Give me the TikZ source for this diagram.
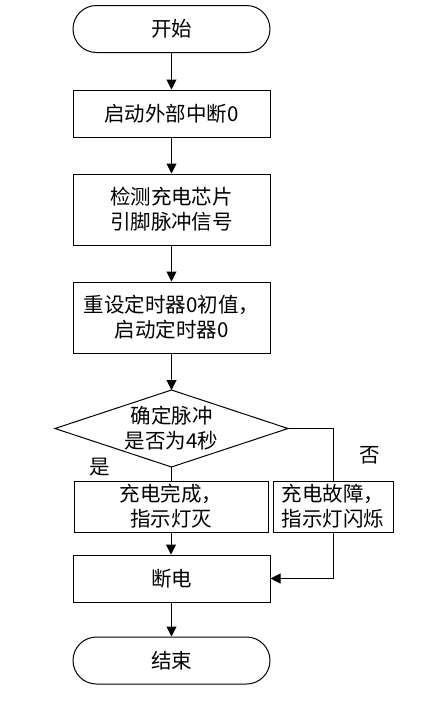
\documentclass[tikz,border=0pt]{standalone}
\usepackage{fontspec}
\setmainfont{Noto Sans CJK SC}
\usetikzlibrary{shapes.geometric,arrows.meta}
\begin{document}
\begin{tikzpicture}[x=1pt,y=-1pt,
  every node/.style={font=\fontsize{20.5}{25}\selectfont},
  base/.style={draw, line width=1pt, align=center, inner sep=0pt, fill=white},
  term/.style={base, rounded corners=23.5pt, minimum width=197pt, minimum height=47pt},
  proc/.style={base, minimum width=197pt},
  conn/.style={line width=1pt, -{Triangle[length=10pt,width=10pt]}},
  plain/.style={line width=1pt}]
\useasboundingbox (0,0) rectangle (431,705);
\node[term] (start) at (171.5,29) {开始};
\node[proc, minimum height=47pt] (b1) at (171.5,113.5) {启动外部中断0};
\node[proc, minimum height=71pt] (b2) at (171.5,209.5) {检测充电芯片\\引脚脉冲信号};
\node[proc, minimum height=71pt] (b3) at (171.5,317.5) {重设定时器0初值，\\启动定时器0};
\coordinate (dt) at (171.5,390);
\coordinate (db) at (171.5,467);
\coordinate (dl) at (55,428.5);
\coordinate (dr) at (288,428.5);
\draw[plain, line join=miter] (dt) -- (dr) -- (db) -- (dl) -- cycle;
\node[align=center, inner sep=0pt] (d) at (171.5,428) {确定脉冲\\是否为4秒};
\node[proc, minimum width=194pt, minimum height=51pt] (yes) at (171,506.5) {充电完成，\\指示灯灭};
\node[proc, minimum width=120pt, minimum height=51pt] (no) at (333,506.5) {充电故障，\\指示灯闪烁};
\node[proc, minimum height=47pt] (off) at (171.5,578.5) {断电};
\node[term] (end) at (171.5,660.5) {结束};
\node (lyes) at (100,467) {是};
\node (lno) at (370,455) {否};
\draw[conn] (start) -- (b1);
\draw[conn] (b1) -- (b2);
\draw[conn] (b2) -- (b3);
\draw[conn] (b3) -- (dt);
\draw[plain] (db) -- (db |- yes.north);
\draw[conn] (yes.south) -- (yes.south |- off.north);
\draw[plain] (dr) -| (no.north);
\draw[conn] (no.south) |- (off.east);
\draw[conn] (off) -- (end);
\end{tikzpicture}
\end{document}
